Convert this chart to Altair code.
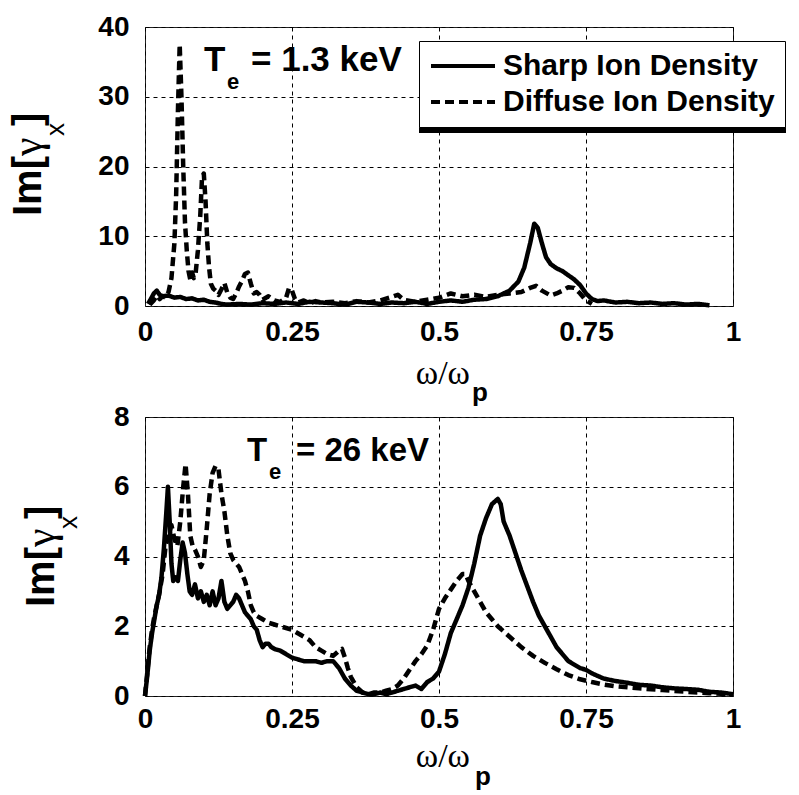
import altair as alt
import pandas as pd

SHARP = "Sharp Ion Density"
DIFFUSE = "Diffuse Ion Density"
SERIES = [SHARP, DIFFUSE]

X_TICKS = [0, 0.25, 0.5, 0.75, 1]
TOP_Y_TICKS = [0, 10, 20, 30, 40]
BOT_Y_TICKS = [0, 2, 4, 6, 8]

TOP_LABEL = "= 1.3 keV"
BOT_LABEL = "= 26 keV"

# ---- Top panel (Te = 1.3 keV) ----
top_sharp_x = [0.005, 0.01, 0.015, 0.02, 0.025, 0.03, 0.04, 0.05, 0.06, 0.07, 0.08, 0.09, 0.1, 0.11,
               0.12, 0.13, 0.14, 0.16, 0.18, 0.2, 0.22, 0.24, 0.26, 0.28, 0.3, 0.32, 0.34, 0.36, 0.38,
               0.4, 0.42, 0.44, 0.46, 0.48, 0.5, 0.52, 0.54, 0.56, 0.58, 0.6, 0.62, 0.635, 0.645, 0.655,
               0.662, 0.668, 0.675, 0.682, 0.69, 0.7, 0.71, 0.72, 0.73, 0.74, 0.75, 0.76, 0.77, 0.78,
               0.8, 0.82, 0.84, 0.86, 0.88, 0.9, 0.92, 0.94, 0.96]
top_sharp_y = [0.3, 1.0, 1.8, 2.2, 1.6, 1.4, 1.5, 1.2, 1.3, 1.0, 1.1, 0.8, 0.9, 0.6,
               0.5, 0.3, 0.2, 0.3, 0.2, 0.4, 0.3, 0.5, 0.3, 0.6, 0.5, 0.4, 0.2, 0.6, 0.5,
               0.3, 0.5, 0.4, 0.6, 0.3, 0.6, 0.8, 0.6, 0.9, 1.0, 1.4, 2.2, 3.5, 5.5, 9.0,
               11.8, 11.2, 9.0, 7.0, 6.0, 5.4, 5.0, 4.4, 3.8, 3.0, 1.8, 1.0, 0.7, 0.8,
               0.5, 0.6, 0.4, 0.5, 0.3, 0.4, 0.2, 0.3, 0.1]

top_diffuse_x = [0.008, 0.015, 0.02, 0.025, 0.03, 0.035, 0.04, 0.045, 0.05, 0.053, 0.056, 0.059, 0.062,
                 0.065, 0.068, 0.071, 0.074, 0.077, 0.08, 0.083, 0.086, 0.09, 0.094, 0.097, 0.1, 0.103,
                 0.106, 0.109, 0.112, 0.116, 0.12, 0.125, 0.13, 0.135, 0.14, 0.145, 0.15, 0.155, 0.16,
                 0.165, 0.17, 0.175, 0.18, 0.185, 0.19, 0.195, 0.2, 0.21, 0.22, 0.23, 0.24, 0.245, 0.25,
                 0.255, 0.26, 0.27, 0.28, 0.29, 0.3, 0.32, 0.34, 0.36, 0.38, 0.4, 0.42, 0.43, 0.44, 0.46,
                 0.48, 0.5, 0.52, 0.54, 0.56, 0.58, 0.6, 0.62, 0.64, 0.655, 0.665, 0.675, 0.69, 0.7,
                 0.71, 0.72, 0.73, 0.74, 0.75, 0.76]
top_diffuse_y = [0.2, 0.8, 1.5, 1.0, 1.4, 1.2, 2.0, 4.0, 9.0, 16.0, 28.0, 37.5, 30.0,
                 20.0, 12.0, 8.0, 5.0, 3.8, 4.8, 4.0, 4.6, 8.0, 13.0, 18.5, 19.0, 15.0,
                 9.0, 5.5, 3.2, 2.5, 2.2, 1.6, 2.4, 3.3, 1.9, 1.2, 1.0, 1.8, 2.8,
                 3.6, 4.6, 4.8, 3.2, 1.8, 2.0, 1.6, 0.9, 1.4, 0.8, 0.6, 1.2, 2.6, 2.2,
                 1.0, 0.5, 0.8, 0.4, 0.7, 0.5, 0.6, 0.4, 0.7, 0.5, 0.8, 1.3, 1.6, 0.9, 0.6,
                 0.9, 1.2, 1.8, 1.4, 1.6, 1.3, 1.6, 1.8, 2.0, 2.6, 2.9, 2.2, 1.5, 1.8,
                 2.2, 2.7, 2.6, 1.8, 0.8, 0.3]

# ---- Bottom panel (Te = 26 keV) ----
bot_sharp_x = [0.0, 0.004, 0.008, 0.012, 0.016, 0.02, 0.024, 0.028, 0.032, 0.036, 0.039, 0.042, 0.045,
               0.048, 0.052, 0.056, 0.06, 0.064, 0.068, 0.072, 0.076, 0.08, 0.085, 0.09, 0.095, 0.1,
               0.105, 0.11, 0.115, 0.12, 0.125, 0.13, 0.135, 0.14, 0.145, 0.15, 0.155, 0.16, 0.165,
               0.17, 0.175, 0.18, 0.185, 0.19, 0.195, 0.2, 0.205, 0.21, 0.215, 0.22, 0.23, 0.24, 0.25,
               0.26, 0.27, 0.28, 0.29, 0.3, 0.31, 0.32, 0.33, 0.34, 0.35, 0.36, 0.37, 0.38, 0.39, 0.4,
               0.41, 0.42, 0.43, 0.44, 0.45, 0.46, 0.47, 0.48, 0.49, 0.5, 0.51, 0.52, 0.53, 0.54, 0.55,
               0.56, 0.57, 0.58, 0.59, 0.6, 0.605, 0.61, 0.62, 0.63, 0.64, 0.65, 0.66, 0.67, 0.68, 0.69,
               0.7, 0.71, 0.72, 0.73, 0.74, 0.75, 0.76, 0.78, 0.8, 0.82, 0.84, 0.86, 0.88, 0.9, 0.92,
               0.94, 0.96, 0.98, 1.0]
bot_sharp_y = [0.0, 0.6, 1.3, 1.8, 2.2, 2.6, 2.9, 3.4, 4.2, 5.2, 6.0, 5.0, 3.8,
               3.3, 3.4, 3.3, 3.9, 4.4, 4.1, 3.5, 3.0, 2.9, 3.2, 2.8, 3.0, 2.7,
               2.9, 2.6, 3.0, 2.6, 2.8, 3.3, 2.7, 2.5, 2.6, 2.7, 2.9, 2.8, 2.6,
               2.4, 2.3, 2.2, 2.0, 1.9, 1.6, 1.4, 1.5, 1.5, 1.4, 1.35, 1.3, 1.2, 1.1,
               1.05, 1.0, 1.0, 1.0, 0.95, 1.0, 1.0, 0.8, 0.5, 0.3, 0.15, 0.1, 0.05, 0.05, 0.1,
               0.05, 0.1, 0.15, 0.2, 0.25, 0.3, 0.2, 0.4, 0.5, 0.7, 1.2, 1.8, 2.2, 2.6, 3.1,
               3.8, 4.6, 5.1, 5.5, 5.65, 5.5, 5.0, 4.6, 4.1, 3.6, 3.15, 2.7, 2.3, 2.0, 1.7,
               1.4, 1.2, 1.0, 0.9, 0.8, 0.75, 0.65, 0.5, 0.43, 0.38, 0.32, 0.3, 0.25, 0.22, 0.2,
               0.18, 0.12, 0.1, 0.05]

bot_diffuse_x = [0.0, 0.004, 0.008, 0.012, 0.016, 0.02, 0.025, 0.03, 0.035, 0.04, 0.045, 0.05, 0.055,
                 0.06, 0.065, 0.069, 0.073, 0.077, 0.081, 0.085, 0.09, 0.095, 0.1, 0.105, 0.11, 0.115,
                 0.12, 0.125, 0.13, 0.135, 0.14, 0.145, 0.15, 0.155, 0.16, 0.165, 0.17, 0.175, 0.18,
                 0.185, 0.19, 0.2, 0.21, 0.22, 0.23, 0.24, 0.25, 0.26, 0.27, 0.28, 0.29, 0.3, 0.31,
                 0.32, 0.33, 0.335, 0.34, 0.345, 0.35, 0.36, 0.37, 0.38, 0.39, 0.4, 0.41, 0.42, 0.43,
                 0.44, 0.45, 0.46, 0.47, 0.48, 0.49, 0.5, 0.51, 0.52, 0.53, 0.54, 0.545, 0.55, 0.56,
                 0.57, 0.58, 0.59, 0.6, 0.62, 0.64, 0.66, 0.68, 0.7, 0.72, 0.74, 0.76, 0.78, 0.8,
                 0.84, 0.88, 0.92, 0.96, 1.0]
bot_diffuse_y = [0.0, 0.7, 1.4, 1.9, 2.3, 2.6, 3.0, 3.5, 4.3, 4.6, 4.9, 4.5, 4.3,
                 5.0, 6.0, 6.65, 5.8, 4.6, 4.3, 4.2, 4.0, 3.7, 3.9, 4.8, 5.8, 6.4,
                 6.6, 6.5, 5.8, 5.3, 4.6, 4.1, 3.9, 3.8, 3.7, 3.5, 3.3, 3.0, 2.6,
                 2.4, 2.3, 2.2, 2.1, 2.05, 2.0, 1.95, 1.9, 1.8, 1.7, 1.6, 1.4, 1.3, 1.2,
                 1.15, 1.3, 1.35, 1.1, 0.8, 0.55, 0.25, 0.1, 0.05, 0.1, 0.1, 0.15, 0.2, 0.3,
                 0.5, 0.75, 1.0, 1.2, 1.45, 1.9, 2.5, 2.8, 3.05, 3.3, 3.5, 3.5, 3.3, 3.0,
                 2.7, 2.4, 2.2, 2.0, 1.7, 1.4, 1.15, 0.95, 0.77, 0.6, 0.48, 0.4, 0.33, 0.28,
                 0.22, 0.17, 0.12, 0.08, 0.05]


def series_frame(xs, ys, name):
    return pd.DataFrame({"w": xs, "im": ys, "series": name})


top_df = pd.concat([series_frame(top_sharp_x, top_sharp_y, SHARP),
                    series_frame(top_diffuse_x, top_diffuse_y, DIFFUSE)])
bot_df = pd.concat([series_frame(bot_sharp_x, bot_sharp_y, SHARP),
                    series_frame(bot_diffuse_x, bot_diffuse_y, DIFFUSE)])

SANS = "Liberation Sans"
SERIF = "Liberation Serif"
W, H = 588, 279


def text_layer(label, x, y, size, weight="bold", font=SANS, angle=0, align="left"):
    return alt.Chart(pd.DataFrame({"label": [label]})).mark_text(
        font=font, fontSize=size, fontWeight=weight, color="black",
        align=align, baseline="alphabetic", angle=angle
    ).encode(text="label:N", x=alt.value(x), y=alt.value(y))


def panel(df, ymax, yticks, legend, xpad, annot, ytitle_pos, xtitle_pos):
    x_axis = alt.Axis(values=X_TICKS, format=".2~f", title=None, grid=True, domain=False,
                      ticks=False, labelPadding=xpad, labelFlush=False, labelOverlap=False)
    y_axis = alt.Axis(values=yticks, title=None, grid=True, domain=False, ticks=False,
                      labelPadding=16, labelFlush=False, labelOverlap=False)
    lines = alt.Chart(df).mark_line(strokeWidth=4.5, color="black", strokeJoin="round").encode(
        x=alt.X("w:Q", scale=alt.Scale(domain=[0, 1], nice=False, zero=False), axis=x_axis),
        y=alt.Y("im:Q", scale=alt.Scale(domain=[0, ymax], nice=False), axis=y_axis),
        strokeDash=alt.StrokeDash("series:N",
                                  scale=alt.Scale(domain=SERIES, range=[[1, 0], [9, 5]]),
                                  legend=legend),
    )
    layers = [lines]
    (tx, ex, rx, fs) = annot
    layers.append(text_layer("T", tx, 44, fs))
    layers.append(text_layer("e", ex, 62, 22))
    layers.append(text_layer(rx[0], rx[1], 44, fs))
    (mx, my, gy, sx, sy, bry) = ytitle_pos
    layers.append(text_layer("Im[", mx, my, 40, angle=270))
    layers.append(text_layer("γ", mx, gy, 42, weight="normal", font=SERIF, angle=270))
    layers.append(text_layer("x", sx, sy, 26, weight="normal", angle=270))
    layers.append(text_layer("]", mx, bry, 40, angle=270))
    (wx, wy, px, py) = xtitle_pos
    layers.append(text_layer("ω/ω", wx, wy, 34, weight="normal", font=SERIF, align="right"))
    layers.append(text_layer("p", px, py, 26))
    return layers


top_legend = alt.Legend(
    orient="none", legendX=274, legendY=14, title=None, direction="vertical",
    strokeColor="black", fillColor="white", padding=10, cornerRadius=0,
    symbolType="stroke", symbolSize=4096, symbolStrokeWidth=4, symbolStrokeColor="black",
    labelFont=SANS, labelFontSize=30, labelFontWeight="bold", labelColor="black",
    labelOffset=6, rowPadding=6, labelLimit=500, clipHeight=30,
)

top_layers = panel(top_df, 40, TOP_Y_TICKS, top_legend, 12,
                   (59, 82, (TOP_LABEL, 106), 35),
                   (-104, 189, 129, -81, 109, 99),
                   (325, 357, 327, 374))
legend_shadow = alt.Chart(pd.DataFrame({"k": [0]})).mark_rule(color="black", strokeWidth=6).encode(
    x=alt.value(274), x2=alt.value(641), y=alt.value(103))
top = alt.layer(*top_layers, legend_shadow).properties(width=W, height=H)

bot_layers = panel(bot_df, 8, BOT_Y_TICKS, None, 9,
                   (102, 124, (BOT_LABEL, 151), 33),
                   (-91, 190, 130, -68, 112, 102),
                   (325, 350, 330, 368))
bottom = alt.layer(*bot_layers).properties(width=W, height=H)

chart = alt.vconcat(top, bottom, spacing=111, bounds="flush").resolve_scale(
    strokeDash="independent"
).resolve_legend(strokeDash="independent").properties(
    padding={"left": 6, "top": 12, "right": 5, "bottom": 0},
    background="white",
).configure_view(stroke="#222", strokeWidth=1).configure_axis(
    labelFont=SANS, labelFontSize=28, labelFontWeight="bold", labelColor="black",
    gridColor="black", gridDash=[4, 4], gridWidth=1, gridOpacity=1,
)

chart.save("out.html", embed_options={"renderer": "svg", "actions": False})
